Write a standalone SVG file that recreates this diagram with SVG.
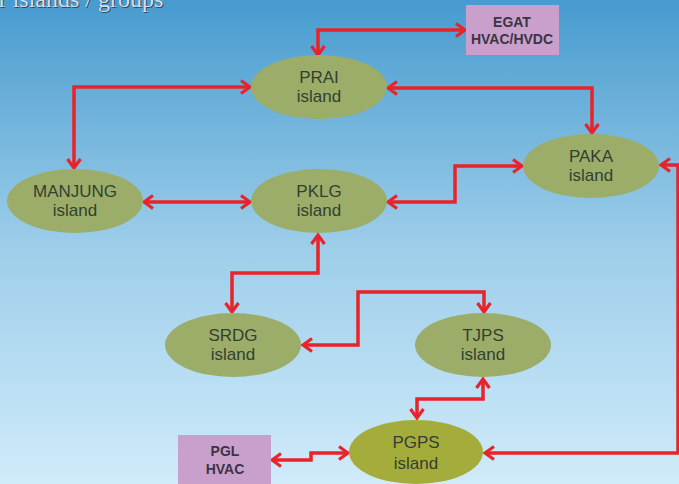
<svg xmlns="http://www.w3.org/2000/svg" width="679" height="484" viewBox="0 0 679 484">
<defs>
<linearGradient id="bg" x1="0" y1="0" x2="0" y2="1">
<stop offset="0" stop-color="#479bcf"/>
<stop offset="0.5" stop-color="#9ccde9"/>
<stop offset="1" stop-color="#d0ebfa"/>
</linearGradient>
<marker id="ah" viewBox="-12 -8 14 16" markerWidth="14" markerHeight="16" refX="0" refY="0" orient="auto-start-reverse" markerUnits="userSpaceOnUse">
<path d="M -9 -6.5 L 0 0 L -9 6.5" fill="none" stroke="#e8232a" stroke-width="3.2" stroke-linejoin="miter"/>
</marker>
</defs>
<style>
.isl{fill:#9bad69}
.pg{fill:#a4ad3c}
.box{fill:#c9a0cb}
.t{font-family:"Liberation Sans",Arial,sans-serif;font-size:17px;fill:#343f31;text-anchor:middle}
.bt{font-family:"Liberation Sans",Arial,sans-serif;font-size:14px;font-weight:bold;fill:#3a3444;text-anchor:middle}
.c{fill:none;stroke:#e8232a;stroke-width:3.5;stroke-linejoin:miter}
.c2{marker-start:url(#ah);marker-end:url(#ah)}
</style>
<rect width="679" height="484" fill="url(#bg)"/>
<text x="-12" y="7" font-family="Liberation Serif,serif" font-size="24" fill="#3a4656" transform="translate(1,1)">er islands / groups</text>
<text x="-12" y="7" font-family="Liberation Serif,serif" font-size="24" fill="#d9dde2">er islands / groups</text>

<g id="connectors">
<path class="c c2" d="M 318 55 V 30 H 465"/>
<path class="c c2" d="M 250 87 H 74 V 168"/>
<path class="c c2" d="M 388 88 H 592 V 133"/>
<path class="c c2" d="M 144 202 H 250"/>
<path class="c c2" d="M 388 202 H 455 V 166 H 522"/>
<path class="c c2" d="M 318 235 V 273 H 232 V 312"/>
<path class="c c2" d="M 303 345 H 358 V 292 H 484 V 312"/>
<path class="c c2" d="M 483 379 V 399 H 417 V 418"/>
<path class="c c2" d="M 348 453 H 311 V 460 H 272"/>
<path class="c" d="M 661 165 H 678 V 453 H 485" marker-start="url(#ah)" marker-end="url(#ah)"/>
</g>

<g id="egat">
<rect class="box" x="466" y="5" width="93" height="50"/>
<text class="bt" x="512" y="27">EGAT</text>
<text class="bt" x="512" y="44">HVAC/HVDC</text>
</g>
<g id="prai">
<ellipse class="isl" cx="319" cy="87" rx="68" ry="32"/>
<text class="t" x="319" y="83">PRAI</text>
<text class="t" x="319" y="102">island</text>
</g>
<g id="paka">
<ellipse class="isl" cx="591" cy="166" rx="68" ry="32"/>
<text class="t" x="591" y="162">PAKA</text>
<text class="t" x="591" y="181">island</text>
</g>
<g id="manjung">
<ellipse class="isl" cx="75" cy="201" rx="68" ry="32"/>
<text class="t" x="75" y="197">MANJUNG</text>
<text class="t" x="75" y="216">island</text>
</g>
<g id="pklg">
<ellipse class="isl" cx="319" cy="201" rx="68" ry="32"/>
<text class="t" x="319" y="197">PKLG</text>
<text class="t" x="319" y="216">island</text>
</g>
<g id="srdg">
<ellipse class="isl" cx="233" cy="345" rx="68" ry="32"/>
<text class="t" x="233" y="341">SRDG</text>
<text class="t" x="233" y="360">island</text>
</g>
<g id="tjps">
<ellipse class="isl" cx="483" cy="345" rx="68" ry="32"/>
<text class="t" x="483" y="341">TJPS</text>
<text class="t" x="483" y="360">island</text>
</g>
<g id="pgps">
<ellipse class="pg" cx="416" cy="452" rx="67" ry="32"/>
<text class="t" x="416" y="448">PGPS</text>
<text class="t" x="416" y="469">island</text>
</g>
<g id="pgl">
<rect class="box" x="178" y="435" width="93" height="52"/>
<text class="bt" x="225" y="456">PGL</text>
<text class="bt" x="225" y="474">HVAC</text>
</g>
</svg>
